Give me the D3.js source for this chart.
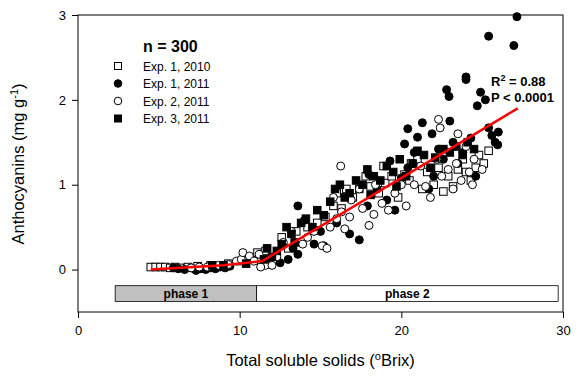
<!DOCTYPE html>
<html>
<head>
<meta charset="utf-8">
<script src="https://cdn.jsdelivr.net/npm/d3@7"></script>
<style>
  body { margin: 0; background: #fff; }
  text { font-family: "Liberation Sans", Arial, sans-serif; }
</style>
</head>
<body>
<div id="chart"></div>
<script>
// Exp. 1, 2010 (open squares)
const exp1_2010 = [
  [4.5,0.03],[4.8,0.03],[5.1,0.03],[5.4,0.03],[5.7,0.02],[6.0,0.03],[6.3,0.02],[6.8,0.03],[7.4,0.04],[8.2,0.05],
  [9.3,0.07],[10.1,0.1],[10.5,0.14],[10.8,0.12],[11.1,0.2],[11.6,0.22],[12.2,0.12],[12.6,0.38],[13.0,0.25],[13.5,0.45],
  [14.2,0.5],[14.8,0.55],[15.3,0.62],[15.8,0.75],[16.3,0.72],[16.6,0.95],[17.0,0.85],[17.4,0.95],[18.1,0.98],[18.6,0.9],
  [19.0,1.02],[19.4,1.1],[19.8,0.85],[20.2,1.12],[20.5,1.05],[21.0,1.3],[21.3,0.95],[21.6,1.15],[22.0,1.0],[22.3,1.2],
  [22.6,0.92],[22.9,1.1],[23.2,0.98],[23.5,1.18],[23.8,1.3],[24.0,1.15],[24.3,1.05],[24.6,1.2],[24.8,1.35],[25.1,1.25],
  [25.4,1.4],[20.6,1.25],[18.9,1.22],[17.8,1.1],[16.0,0.9]
];
// Exp. 1, 2011 (filled circles)
const exp1_2011 = [
  [5.9,0.02],[6.2,0.01],[6.6,0.0],[7.0,0.02],[7.3,-0.01],[7.6,0.01],[7.9,0.0],[8.2,0.02],[8.5,0.01],[8.8,0.03],
  [9.1,0.02],[9.4,0.04],[11.8,0.1],[12.5,0.08],[13.0,0.12],[13.3,0.25],[13.6,0.18],[14.6,0.3],[15.2,0.28],[16.8,0.42],
  [17.4,0.35],[15.0,0.45],[14.0,0.58],[16.0,0.55],[17.9,0.75],[18.5,0.95],[19.1,0.82],[19.6,0.7],[20.0,1.08],[20.4,1.2],
  [20.8,1.38],[21.0,1.56],[21.3,1.73],[21.7,0.95],[22.0,1.1],[22.3,1.42],[22.6,1.3],[22.8,2.12],[22.95,2.04],[23.2,1.5],
  [23.5,1.25],[23.8,1.38],[24.0,2.27],[24.0,2.24],[24.3,1.55],[24.6,1.1],[24.7,1.93],[24.9,2.09],[25.2,2.0],[25.4,1.67],
  [25.4,2.75],[25.6,1.58],[25.8,1.5],[25.96,1.47],[26.0,1.62],[26.96,2.64],[27.15,2.98],[19.3,1.28],[18.0,1.12],[20.2,1.48],
  [20.4,1.66],[21.9,1.6],[23.0,1.75],[13.6,0.75]
];
// Exp. 2, 2011 (open circles)
const exp2_2011 = [
  [7.0,0.02],[7.5,0.03],[8.0,0.03],[8.7,0.05],[9.3,0.06],[9.8,0.1],[10.1,0.12],[10.2,0.2],[10.6,0.16],[10.9,0.1],
  [11.2,0.18],[11.6,0.05],[12.0,0.05],[11.3,0.03],[12.3,0.15],[12.7,0.32],[13.2,0.45],[13.9,0.3],[14.2,0.38],[14.6,0.45],
  [15.1,0.28],[15.4,0.25],[15.6,0.5],[16.0,0.6],[16.3,0.68],[16.5,0.48],[16.8,0.62],[16.25,1.22],[17.4,0.95],[17.6,0.72],
  [18.0,0.52],[18.3,0.65],[18.8,0.78],[19.2,0.7],[19.6,0.9],[20.0,1.0],[20.3,0.75],[20.8,1.0],[21.2,1.22],[21.5,0.98],
  [21.8,0.85],[22.2,1.3],[22.5,1.1],[22.9,1.18],[23.2,0.95],[23.4,1.25],[23.7,1.05],[24.0,1.45],[24.2,1.15],[24.4,1.0],
  [22.3,1.77],[22.4,1.67],[23.5,1.6],[24.5,1.3],[25.0,1.18],[18.4,1.0],[16.9,0.82],[15.8,0.85]
];
// Exp. 3, 2011 (filled squares)
const exp3_2011 = [
  [8.3,0.05],[9.0,0.05],[10.4,0.07],[11.5,0.12],[11.7,0.25],[12.0,0.15],[12.3,0.22],[12.6,0.3],[12.9,0.5],[13.2,0.42],
  [13.4,0.32],[13.8,0.55],[14.1,0.6],[14.5,0.5],[14.8,0.7],[15.2,0.64],[15.6,0.8],[15.9,0.95],[16.2,1.0],[16.5,0.85],
  [16.8,0.9],[17.2,1.05],[17.6,1.0],[17.9,1.18],[18.1,0.88],[18.3,1.1],[18.7,1.05],[19.1,1.22],[19.5,1.15],[19.7,0.98],
  [19.9,1.3],[20.3,1.1],[20.7,1.25],[21.0,1.4],[21.4,1.35],[21.8,1.2],[22.1,1.32],[22.6,1.42],[23.0,1.38],[23.4,1.45],
  [23.8,1.35],[24.1,1.5],[24.5,1.42]
];
// fitted two-phase regression line
const fitLine = [[4.5,0.0],[9.0,0.05],[11.4,0.1],[27.2,1.9]];

const phases = [
  { label: 'phase 1', x0: 2.3, x1: 11.05, fill: '#c0c0c0' },
  { label: 'phase 2', x0: 11.05, x1: 29.7, fill: '#ffffff' }
];
const xTicks = [0, 10, 20, 30];
const yTicks = [0, 1, 2, 3];

const legendItems = [
  { label: 'Exp. 1, 2010', shape: 'square', filled: false },
  { label: 'Exp. 1, 2011', shape: 'circle', filled: true },
  { label: 'Exp. 2, 2011', shape: 'circle', filled: false },
  { label: 'Exp. 3, 2011', shape: 'square', filled: true }
];

const width = 579, height = 378;
const margin = { left: 78, right: 16, top: 15, bottom: 66 };

const svg = d3.select('#chart').append('svg')
  .attr('width', width)
  .attr('height', height);

const x = d3.scaleLinear().domain([0, 30]).range([margin.left, width - margin.right]);
const y = d3.scaleLinear().domain([-0.5, 3]).range([height - margin.bottom, margin.top]);

// plot frame
svg.append('rect')
  .attr('x', x(0)).attr('y', y(3))
  .attr('width', x(30) - x(0)).attr('height', y(-0.5) - y(3))
  .attr('fill', 'none').attr('stroke', '#000').attr('stroke-width', 1);

const xAxis = svg.append('g')
  .attr('transform', `translate(0,${y(-0.5)})`)
  .call(d3.axisBottom(x).tickValues(xTicks).tickFormat(d3.format('d')).tickSize(6).tickPadding(8));
const yAxis = svg.append('g')
  .attr('transform', `translate(${x(0)},0)`)
  .call(d3.axisLeft(y).tickValues(yTicks).tickFormat(d3.format('d')).tickSize(6).tickPadding(6));
[xAxis, yAxis].forEach(a => {
  a.select('.domain').remove();
  a.selectAll('text').attr('font-size', 13).attr('fill', '#000')
    .attr('font-family', '"Liberation Sans", Arial, sans-serif');
});

// phase bars
svg.selectAll('rect.phase')
  .data(phases)
  .enter()
  .append('rect')
  .attr('class', 'phase')
  .attr('x', d => x(d.x0))
  .attr('y', y(-0.19))
  .attr('width', d => x(d.x1) - x(d.x0))
  .attr('height', y(-0.375) - y(-0.19))
  .attr('fill', d => d.fill)
  .attr('stroke', '#000')
  .attr('stroke-width', 0.8);

svg.selectAll('text.phase')
  .data(phases)
  .enter()
  .append('text')
  .attr('class', 'phase')
  .attr('x', d => (x(d.x0) + x(d.x1)) / 2)
  .attr('y', y(-0.33))
  .attr('text-anchor', 'middle')
  .attr('font-size', 12)
  .attr('font-weight', 'bold')
  .text(d => d.label);

const sq = 7.5, rad = 4;

function drawSquares(data, filled) {
  svg.append('g').selectAll('rect')
    .data(data)
    .enter()
    .append('rect')
    .attr('x', d => x(d[0]) - sq / 2)
    .attr('y', d => y(d[1]) - sq / 2)
    .attr('width', sq).attr('height', sq)
    .attr('fill', filled ? '#000' : '#fff')
    .attr('stroke', '#000').attr('stroke-width', 1);
}

function drawCircles(data, filled) {
  svg.append('g').selectAll('circle')
    .data(data)
    .enter()
    .append('circle')
    .attr('cx', d => x(d[0]))
    .attr('cy', d => y(d[1]))
    .attr('r', rad)
    .attr('fill', filled ? '#000' : '#fff')
    .attr('stroke', '#000').attr('stroke-width', 1);
}

drawSquares(exp1_2010, false);
drawCircles(exp1_2011, true);
drawCircles(exp2_2011, false);
drawSquares(exp3_2011, true);

svg.append('path')
  .datum(fitLine)
  .attr('d', d3.line().x(d => x(d[0])).y(d => y(d[1])))
  .attr('fill', 'none')
  .attr('stroke', '#ff0000')
  .attr('stroke-width', 2.5);

// legend
const legend = svg.append('g');
legend.append('text')
  .attr('x', 143).attr('y', 52)
  .attr('font-size', 16).attr('font-weight', 'bold')
  .text('n = 300');

legendItems.forEach((d, i) => {
  const cy = 66 + i * 17.5;
  if (d.shape === 'square') {
    legend.append('rect')
      .attr('x', 118 - 3.5).attr('y', cy - 3.5)
      .attr('width', 7).attr('height', 7)
      .attr('fill', d.filled ? '#000' : '#fff')
      .attr('stroke', '#000').attr('stroke-width', 1);
  } else {
    legend.append('circle')
      .attr('cx', 118).attr('cy', cy).attr('r', 3.8)
      .attr('fill', d.filled ? '#000' : '#fff')
      .attr('stroke', '#000').attr('stroke-width', 1);
  }
  legend.append('text')
    .attr('x', 143).attr('y', cy + 4.5)
    .attr('font-size', 12)
    .text(d.label);
});

// statistics annotation
const stats = svg.append('g').attr('font-size', 13).attr('font-weight', 'bold');
const r2 = stats.append('text').attr('x', 491).attr('y', 86);
r2.append('tspan').text('R');
r2.append('tspan').attr('dy', -5).attr('font-size', 9).text('2');
r2.append('tspan').attr('dy', 5).text(' = 0.88');
stats.append('text').attr('x', 491).attr('y', 102).text('P < 0.0001');

// axis titles
const xt = svg.append('text')
  .attr('x', (x(0) + x(30)) / 2).attr('y', 366)
  .attr('text-anchor', 'middle')
  .attr('font-size', 16.5);
xt.append('tspan').text('Total soluble solids (');
xt.append('tspan').attr('dy', -6).attr('font-size', 11).text('o');
xt.append('tspan').attr('dy', 6).text('Brix)');

const yt = svg.append('text')
  .attr('transform', `translate(24,164) rotate(-90)`)
  .attr('text-anchor', 'middle')
  .attr('font-size', 16.5);
yt.append('tspan').text('Anthocyanins (mg g');
yt.append('tspan').attr('dy', -6).attr('font-size', 11).text('-1');
yt.append('tspan').attr('dy', 6).text(')');
</script>
</body>
</html>
